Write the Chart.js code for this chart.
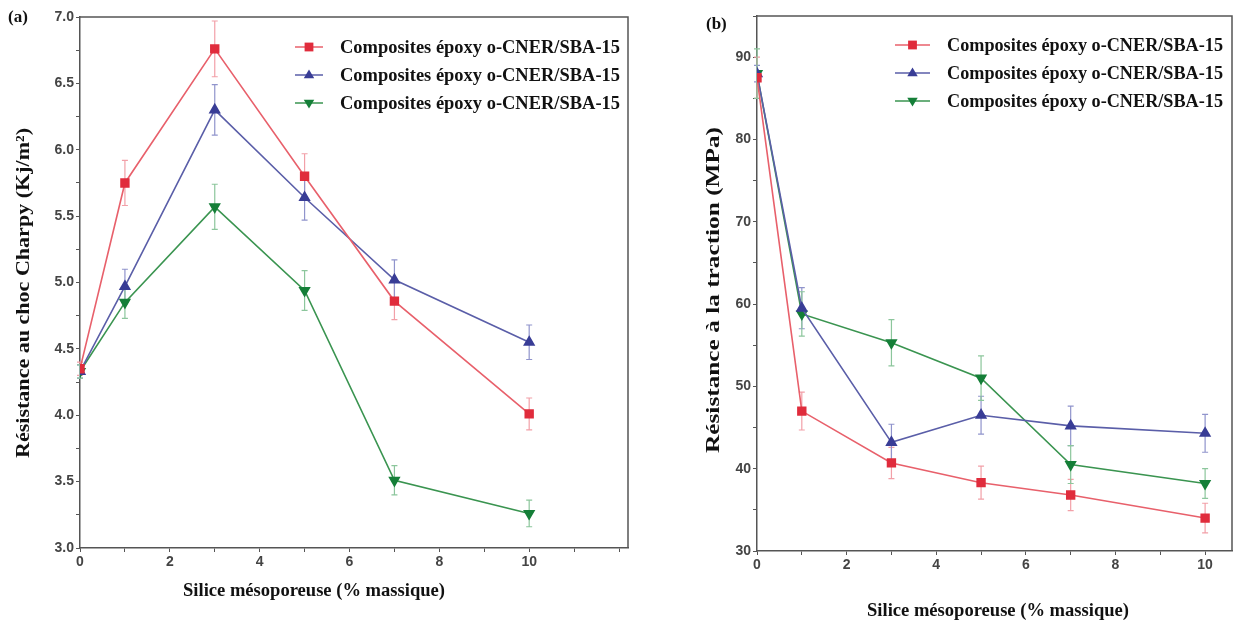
<!DOCTYPE html>
<html>
<head>
<meta charset="utf-8">
<script src="https://cdn.jsdelivr.net/npm/chart.js@4.4.0/dist/chart.umd.min.js"></script>
<style>
body { margin: 0; background: #fff; }
#wrap { position: relative; width: 1248px; height: 632px; }
.panel { position: absolute; top: 0; height: 632px; }
#pa { left: 0; width: 640px; }
#pb { left: 640px; width: 608px; }
</style>
</head>
<body>
<div id="wrap">
  <div class="panel" id="pa"><canvas id="chartA"></canvas></div>
  <div class="panel" id="pb"><canvas id="chartB"></canvas></div>
</div>
<script>
// silica loading (% massique)
const silica = [0, 1, 3, 5, 7, 10];
const seriesLabels = ['Composites époxy o-CNER/SBA-15', 'Composites époxy o-CNER/SBA-15', 'Composites époxy o-CNER/SBA-15'];

// (a) Charpy impact strength (Kj/m²)
const charpyRed   = [4.35, 5.75, 6.76, 5.80, 4.86, 4.01];
const charpyBlue  = [4.33, 4.97, 6.30, 5.64, 5.02, 4.55];
const charpyGreen = [4.33, 4.85, 5.57, 4.94, 3.51, 3.26];
const charpyRedErr   = [0.05, 0.17, 0.21, 0.17, 0.14, 0.12];
const charpyBlueErr  = [0.05, 0.13, 0.19, 0.17, 0.15, 0.13];
const charpyGreenErr = [0.05, 0.12, 0.17, 0.15, 0.11, 0.10];

// (b) tensile strength (MPa)
const tensileRed   = [87.5, 47.0, 40.7, 38.3, 36.8, 34.0];
const tensileBlue  = [88.0, 59.5, 43.2, 46.5, 45.2, 44.3];
const tensileGreen = [88.0, 58.8, 55.3, 51.0, 40.5, 38.2];
const tensileRedErr   = [2.5, 2.3, 1.9, 2.0, 1.9, 1.8];
const tensileBlueErr  = [1.0, 2.5, 2.2, 2.3, 2.4, 2.3];
const tensileGreenErr = [3.0, 2.7, 2.8, 2.7, 2.3, 1.8];

const colors = {
    red:   { line: '#e8606b', mark: '#e02c3c', err: '#f2a0a8' },
    blue:  { line: '#5a5ea8', mark: '#393d96', err: '#9094cc' },
    green: { line: '#3a9450', mark: '#157f38', err: '#8cc69c' }
};

const serif = "'Liberation Serif', 'Times New Roman', serif";
const tickFont = { family: "'Liberation Sans Narrow', 'Arial Narrow', 'Liberation Sans', sans-serif", size: 14, weight: 'bold' };

function marker(ctx, style, x, y, r, fill) {
    ctx.fillStyle = fill;
    ctx.beginPath();
    if (style === 'rect') {
        ctx.rect(x - r * 0.8, y - r * 0.8, r * 1.6, r * 1.6);
    } else if (style === 'triangle') {
        ctx.moveTo(x, y - r);
        ctx.lineTo(x + r * 0.95, y + r * 0.6);
        ctx.lineTo(x - r * 0.95, y + r * 0.6);
    } else {
        ctx.moveTo(x, y + r);
        ctx.lineTo(x + r * 0.95, y - r * 0.6);
        ctx.lineTo(x - r * 0.95, y - r * 0.6);
    }
    ctx.closePath();
    ctx.fill();
}

// text squeezed/stretched along its baseline to a given width
function fitText(ctx, text, x, y, width, angle) {
    const w = ctx.measureText(text).width;
    ctx.save();
    ctx.translate(x, y);
    if (angle) ctx.rotate(angle);
    ctx.scale(width / w, 1);
    ctx.fillText(text, 0, 0);
    ctx.restore();
}

const extras = {
    id: 'extras',
    beforeDatasetsDraw(chart, args, opts) {
        const ctx = chart.ctx, xs = chart.scales.x, ys = chart.scales.y;
        ctx.save();
        ctx.lineWidth = 1.2;
        chart.data.datasets.forEach((ds, i) => {
            ctx.strokeStyle = ds.errColor;
            ds.data.forEach((p, j) => {
                const e = opts.errors[i][j];
                const x = xs.getPixelForValue(p.x);
                const y1 = ys.getPixelForValue(p.y + e), y2 = ys.getPixelForValue(p.y - e);
                ctx.beginPath();
                ctx.moveTo(x, y1); ctx.lineTo(x, y2);
                ctx.moveTo(x - 3, y1); ctx.lineTo(x + 3, y1);
                ctx.moveTo(x - 3, y2); ctx.lineTo(x + 3, y2);
                ctx.stroke();
            });
        });
        ctx.restore();
    },
    afterDraw(chart, args, opts) {
        const ctx = chart.ctx, a = chart.chartArea;
        ctx.save();
        // box frame (top and right)
        ctx.strokeStyle = '#555';
        ctx.lineWidth = 1.5;
        ctx.beginPath();
        ctx.moveTo(a.left, a.top); ctx.lineTo(a.right, a.top); ctx.lineTo(a.right, a.bottom);
        ctx.stroke();

        // legend
        ctx.font = 'bold 18px ' + serif;
        ctx.textBaseline = 'middle';
        ctx.textAlign = 'left';
        chart.data.datasets.forEach((ds, i) => {
            const x = opts.legendX, y = opts.legendY + i * 28;
            ctx.strokeStyle = ds.borderColor;
            ctx.lineWidth = 1.5;
            ctx.beginPath(); ctx.moveTo(x, y); ctx.lineTo(x + opts.lineLen, y); ctx.stroke();
            marker(ctx, ds.pointRotation ? 'down' : ds.pointStyle, x + opts.lineLen / 2, y, 5.5, ds.pointBackgroundColor);
            ctx.fillStyle = '#111';
            fitText(ctx, ds.label, x + opts.textOff, y + 1, opts.textWidth);
        });

        // panel label and axis titles
        ctx.fillStyle = '#111';
        ctx.font = 'bold 17px ' + serif;
        ctx.fillText(opts.panel, opts.panelX, opts.panelY);
        ctx.textAlign = 'center';
        ctx.font = 'bold 18px ' + serif;
        fitText(ctx, 'Silice mésoporeuse (% massique)', opts.xTitleX, opts.xTitleY, 262);
        ctx.font = 'bold 19px ' + serif;
        fitText(ctx, opts.yTitle, opts.yTitleX, opts.yTitleY, opts.yTitleLen, -Math.PI / 2);
        ctx.restore();
    }
};

function makeDatasets(values) {
    const keys = ['red', 'blue', 'green'];
    const styles = ['rect', 'triangle', 'triangle'];
    return values.map((vals, i) => ({
        label: seriesLabels[i],
        data: vals.map((v, j) => ({ x: silica[j], y: v })),
        borderColor: colors[keys[i]].line,
        backgroundColor: colors[keys[i]].mark,
        pointBackgroundColor: colors[keys[i]].mark,
        pointBorderColor: colors[keys[i]].mark,
        errColor: colors[keys[i]].err,
        pointStyle: styles[i],
        pointRotation: i === 2 ? 180 : 0,
        pointRadius: 5.5,
        borderWidth: 1.6,
        tension: 0
    }));
}

function axisX(max, height) {
    return {
        type: 'linear', min: 0, max: max,
        afterFit: s => { s.height = height; },
        border: { color: '#555', width: 1.5 },
        grid: { drawOnChartArea: false, drawTicks: true, tickLength: 4, color: '#555' },
        ticks: {
            stepSize: 1, includeBounds: false, font: tickFont, color: '#444', padding: 2, maxRotation: 0, autoSkip: false,
            callback: v => (v % 2 === 0 && v <= 10) ? v : ''
        }
    };
}

function mountChart(id, opts) {
    const ctx = document.getElementById(id).getContext('2d');
    return new Chart(ctx, {
        type: 'line',
        data: { datasets: makeDatasets(opts.values) },
        options: {
            responsive: true,
            maintainAspectRatio: false,
            animation: false,
            layout: { padding: opts.padding },
            scales: {
                x: axisX(opts.xMax, opts.xHeight),
                y: {
                    type: 'linear', min: opts.yMin, max: opts.yMax,
                    afterFit: s => { s.width = opts.yWidth; },
                    border: { color: '#555', width: 1.5 },
                    grid: { drawOnChartArea: false, drawTicks: true, tickLength: 4, color: '#555' },
                    ticks: { stepSize: opts.yStep, includeBounds: false, font: tickFont, color: '#444', padding: 2, autoSkip: false, callback: opts.yLabel }
                }
            },
            plugins: {
                legend: { display: false },
                tooltip: { enabled: false },
                extras: opts.extras
            }
        },
        plugins: [extras]
    });
}

mountChart('chartA', {
    values: [charpyRed, charpyBlue, charpyGreen],
    padding: { left: 0, right: 12, top: 17, bottom: 0 },
    xMax: 12.2, xHeight: 84, yMin: 3, yMax: 7, yStep: 0.25, yWidth: 80,
    yLabel: v => Math.abs(v * 2 - Math.round(v * 2)) < 1e-6 ? v.toFixed(1) : '',
    extras: {
        errors: [charpyRedErr, charpyBlueErr, charpyGreenErr],
        legendX: 295, legendY: 47, lineLen: 28, textOff: 45, textWidth: 280,
        panel: '(a)', panelX: 8, panelY: 18,
        xTitleX: 314, xTitleY: 591,
        yTitle: 'Résistance au choc Charpy (Kj/m²)', yTitleX: 24, yTitleY: 293, yTitleLen: 330
    }
});

mountChart('chartB', {
    values: [tensileRed, tensileBlue, tensileGreen],
    padding: { left: 0, right: 16, top: 16, bottom: 0 },
    xMax: 10.6, xHeight: 81, yMin: 30, yMax: 95, yStep: 5, yWidth: 117,
    yLabel: v => v % 10 === 0 ? v : '',
    extras: {
        errors: [tensileRedErr, tensileBlueErr, tensileGreenErr],
        legendX: 255, legendY: 45, lineLen: 35, textOff: 52, textWidth: 276,
        panel: '(b)', panelX: 66, panelY: 25,
        xTitleX: 358, xTitleY: 611,
        yTitle: 'Résistance à la traction (MPa)', yTitleX: 74, yTitleY: 290, yTitleLen: 326
    }
});
</script>
</body>
</html>
